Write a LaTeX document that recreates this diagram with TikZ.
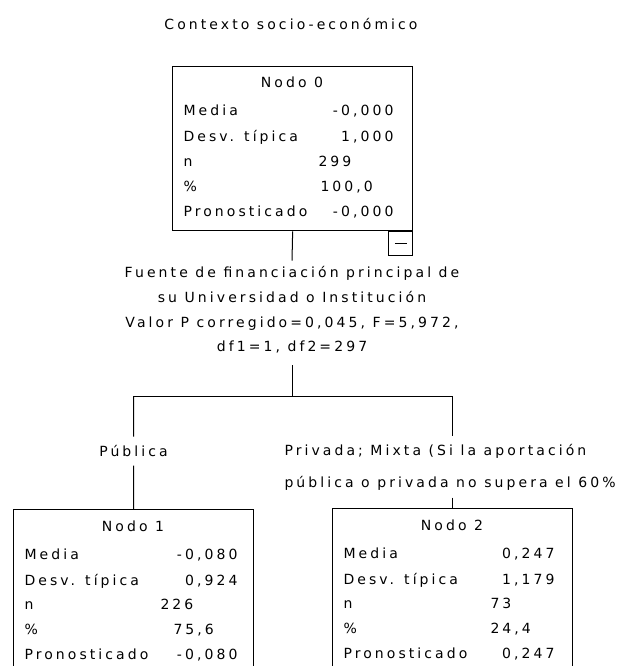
\documentclass[tikz,border=0pt]{standalone}
\usepackage{fontspec}
\setmainfont{DejaVu Sans}[LetterSpace=22]
\begin{document}
\begin{tikzpicture}[x=1pt, y=-1pt, line width=1pt,
  every node/.style={font=\fontsize{14}{24.7}\selectfont, inner sep=0pt},
  statbox/.style={draw, line width=1.3pt, minimum width=240, minimum height=164, anchor=north west},
  boxhead/.style={text height=10pt, text depth=0pt},
  rowlbl/.style={anchor=west, text height=10pt, text depth=0pt},
  rowval/.style={anchor=east, text height=10pt, text depth=0pt},
  rowcnt/.style={anchor=west, text height=10pt, text depth=0pt}]
\useasboundingbox (0,0) rectangle (619,666);
\clip (0,0) rectangle (619,666);
\node (title) at (291,24) {Contexto socio-económico};
% tree nodes
\node[statbox] (nodo0) at (172,66) {};
\node[statbox] (nodo1) at (13,509) {};
\node[statbox] (nodo2) at (332,508) {};
\node[draw, minimum size=24, anchor=north east] (collapse) at (nodo0.south east) {};
\draw ([xshift=-6pt]collapse.center) -- ([xshift=6pt]collapse.center);
\foreach \bx/\k in {nodo0/0, nodo1/1, nodo2/2} {
  \node[boxhead] at ([shift={(120,17)}]\bx.north west) {Nodo \k};
  \foreach \lbl/\dy in {Media/45, Desv. típica/71, n/95, \%/120, Pronosticado/145}
    \node[rowlbl] at ([shift={(11,\dy)}]\bx.north west) {\lbl};
}
% node 0 values
\node[rowval] at ([shift={(222,45)}]nodo0.north west) {-0,000};
\node[rowval] at ([shift={(222,71)}]nodo0.north west) {1,000};
\node[rowcnt] at ([shift={(146,95)}]nodo0.north west) {299};
\node[rowcnt] at ([shift={(148,120)}]nodo0.north west) {100,0};
\node[rowval] at ([shift={(222,145)}]nodo0.north west) {-0,000};
% node 1 values
\node[rowval] at ([shift={(225,45)}]nodo1.north west) {-0,080};
\node[rowval] at ([shift={(225,71)}]nodo1.north west) {0,924};
\node[rowcnt] at ([shift={(147,95)}]nodo1.north west) {226};
\node[rowcnt] at ([shift={(160,120)}]nodo1.north west) {75,6};
\node[rowval] at ([shift={(225,145)}]nodo1.north west) {-0,080};
% node 2 values
\node[rowval] at ([shift={(223,45)}]nodo2.north west) {0,247};
\node[rowval] at ([shift={(223,71)}]nodo2.north west) {1,179};
\node[rowcnt] at ([shift={(158,95)}]nodo2.north west) {73};
\node[rowcnt] at ([shift={(158,120)}]nodo2.north west) {24,4};
\node[rowval] at ([shift={(223,145)}]nodo2.north west) {0,247};
% split and branch labels
\node[align=center, inner ysep=5.5pt] (split) at (292,310) {Fuente de financiación principal de\\su Universidad o Institución\\Valor P corregido=0,045, F=5,972,\\df1=1, df2=297};
\node[boxhead, inner ysep=9pt] (publica) at (133.5,451) {Pública};
\node[align=left, anchor=west, inner ysep=7pt, font=\fontsize{14}{32}\selectfont] (privada) at (284,467) {Privada; Mixta (Si la aportación\\pública o privada no supera el 60\%};
\coordinate (fork) at (292,396);
% connectors
\draw (nodo0.south) -- (split.north);
\draw (split.south) ++(0,6) -- (fork);
\draw (nodo1.north |- fork) -- (nodo2.north |- fork);
\draw (nodo1.north |- fork) -- (publica.north);
\draw (publica.south) -- (nodo1.north);
\draw (nodo2.north |- fork) -- (nodo2.north |- privada.north);
\draw (nodo2.north |- privada.south) -- (nodo2.north);
\end{tikzpicture}
\end{document}
